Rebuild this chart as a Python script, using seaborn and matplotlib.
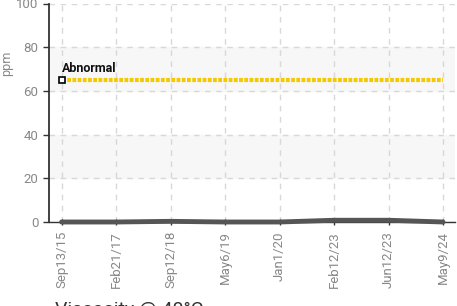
import numpy as np
import pandas as pd
import matplotlib
matplotlib.use("Agg")
import matplotlib.pyplot as plt
import seaborn as sns

# sample dates and ppm readings
dates = ["Sep13/15", "Feb21/17", "Sep12/18", "May6/19", "Jan1/20", "Feb12/23", "Jun12/23", "May9/24"]
ppm = [0.0, 0.0, 0.3, 0.0, 0.0, 0.8, 0.8, 0.0]
abnormal = [65] * len(dates)
y_ticks = [0, 20, 40, 60, 80, 100]

df = pd.DataFrame({"date": dates, "ppm": ppm, "abnormal": abnormal})
df["pos"] = np.arange(len(df))

sns.set_theme(style="white")
plt.rcParams["font.family"] = ["Roboto", "DejaVu Sans"]

fig = plt.figure(figsize=(4.57, 3.06), dpi=100)
ax = fig.add_axes([49 / 457, 84 / 306, 406 / 457, 218.5 / 306])

# alternating bands
for lo in [20, 60]:
    ax.axhspan(lo, lo + 20, color="#f7f7f7", zorder=0)

sns.lineplot(data=df, x="pos", y="ppm", color="#555555", lw=3.5, ax=ax,
             zorder=3, clip_on=False)
sns.lineplot(data=df, x="pos", y="abnormal", color="#f5c800", lw=3,
             ax=ax, zorder=4).lines[-1].set_dashes((0.9, 0.35))
ax.plot(df["pos"].iloc[0], abnormal[0], marker="s", ms=4.5, mfc="white",
        mec="black", mew=1.2, zorder=5)
ax.text(df["pos"].iloc[0], abnormal[0] + 2.5, "Abnormal", fontsize=9,
        fontweight="bold", color="#111111", ha="left", va="bottom", zorder=6)

ax.set_xlim(-0.23, 7.22)
ax.set_ylim(0, 100)
ax.set_xticks(df["pos"])
ax.set_xticklabels(dates, rotation=90)
ax.set_yticks(y_ticks)
ax.set_xlabel("")
ax.set_ylabel("ppm", color="#888888", fontsize=9)
ax.yaxis.set_label_coords(-0.089, 0.726)

ax.grid(True, color="#d8d8d8", lw=1, linestyle=(0, (4, 4)))
ax.set_axisbelow(True)
for s in ["top", "right"]:
    ax.spines[s].set_visible(False)
ax.spines["left"].set_color("#333333")
ax.spines["left"].set_linewidth(1.3)
ax.spines["bottom"].set_color("#333333")
ax.spines["bottom"].set_linewidth(1)
ax.tick_params(axis="both", colors="#333333", labelcolor="#888888", labelsize=9.5,
               length=4, width=1, left=True, bottom=True)
ax.tick_params(axis="x", direction="inout", length=5, pad=4)

fig.text(55 / 457, -9 / 306, "Viscosity @ 40°C", fontsize=14, color="#333333",
         family=["Roboto", "DejaVu Sans"], ha="left", va="baseline")

fig.savefig("out.png", dpi=100)
